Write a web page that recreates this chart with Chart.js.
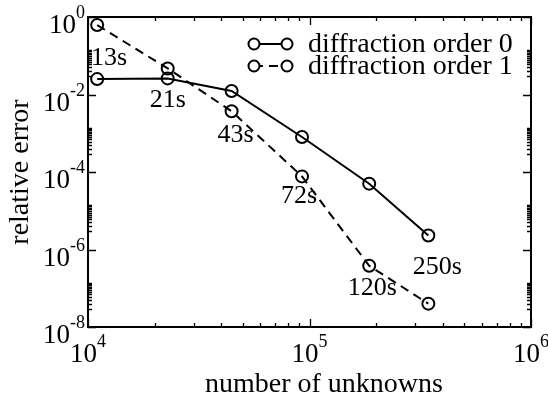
<!DOCTYPE html>
<html>
<head>
<meta charset="utf-8">
<script src="https://cdn.jsdelivr.net/npm/chart.js@4"></script>
<style>
  body { margin: 0; background: #fff; }
  #wrap { position: relative; width: 548px; height: 397px; }
</style>
</head>
<body>
<div id="wrap"><canvas id="chart" width="548" height="397"></canvas></div>
<script>
// number of unknowns
const unknowns = [11000, 22900, 44500, 92500, 186000, 344000];
// relative error, diffraction order 0 and 1
const order0 = [0.025, 0.026, 0.0123, 8.0e-4, 5.0e-5, 2.3e-6];
const order1 = [0.62, 0.047, 3.7e-3, 7.7e-5, 3.8e-7, 4.0e-8];
const seriesNames = ['diffraction order 0', 'diffraction order 1'];
// computing times, written next to the order 1 points
const times = ['13s', '21s', '43s', '72s', '120s', '250s'];
const xDecades = [4, 5, 6];
const yDecades = [0, -2, -4, -6, -8];

const SERIF = '"Liberation Serif", "DejaVu Serif", serif';

// offsets of the time labels from their point (px)
const timeOffsets = [[12, 33], [0, 32], [4, 24], [-3, 20], [3, 22], [9, -36]];

function drawPow(ctx, exp, x, y, align) {
  // "10" with a raised exponent; (x, y) = anchor, y = baseline of "10"
  const big = '27px ' + SERIF, small = '18px ' + SERIF;
  ctx.font = big;
  const wb = ctx.measureText('10').width;
  ctx.font = small;
  const we = ctx.measureText(exp).width;
  let left = align === 'right' ? x - wb - we : x - (wb + we) / 2;
  ctx.textAlign = 'left';
  ctx.textBaseline = 'alphabetic';
  ctx.font = big;
  ctx.fillText('10', left, y);
  ctx.font = small;
  ctx.fillText(exp, left + wb, y - 15);
}

const framePlugin = {
  id: 'frame',
  afterDraw(chart) {
    const { ctx, chartArea: a, scales } = chart;
    const xs = scales.x, ys = scales.y;
    ctx.save();
    ctx.strokeStyle = '#000';
    ctx.fillStyle = '#000';

    // ticks, pointing inward on all four sides
    ctx.lineWidth = 1.3;
    ctx.beginPath();
    const xTick = (v, len) => {
      const px = Math.round(xs.getPixelForValue(v)) + 0.5;
      ctx.moveTo(px, a.bottom); ctx.lineTo(px, a.bottom - len);
      ctx.moveTo(px, a.top); ctx.lineTo(px, a.top + len);
    };
    const yTick = (v, len) => {
      const py = Math.round(ys.getPixelForValue(v)) + 0.5;
      ctx.moveTo(a.left, py); ctx.lineTo(a.left + len, py);
      ctx.moveTo(a.right, py); ctx.lineTo(a.right - len, py);
    };
    xDecades.forEach((d, i) => {
      xTick(Math.pow(10, d), 8);
      if (i < xDecades.length - 1) {
        for (let k = 2; k <= 9; k++) xTick(k * Math.pow(10, d), 4);
      }
    });
    yDecades.forEach((d, i) => {
      yTick(Math.pow(10, d), 8);
      if (i > 0) {
        for (let k = 3; k <= 14; k++) yTick(k * Math.pow(10, d), 4);
      }
    });
    ctx.stroke();

    // frame
    ctx.lineWidth = 2;
    ctx.strokeRect(a.left, a.top, a.right - a.left, a.bottom - a.top);

    // tick labels
    yDecades.forEach(d => {
      const py = ys.getPixelForValue(Math.pow(10, d));
      drawPow(ctx, String(d), a.left - 3, py + 16, 'right');
    });
    xDecades.forEach(d => {
      const px = xs.getPixelForValue(Math.pow(10, d));
      drawPow(ctx, String(d), px, a.bottom + 35, 'center');
    });

    // axis titles
    ctx.font = '28px ' + SERIF;
    ctx.textAlign = 'center';
    ctx.textBaseline = 'middle';
    ctx.fillText('number of unknowns', 324, 385);
    ctx.save();
    ctx.translate(21, (a.top + a.bottom) / 2);
    ctx.rotate(-Math.PI / 2);
    ctx.fillText('relative error', 0, 0);
    ctx.restore();

    // time labels next to the order 1 points
    ctx.font = '26px ' + SERIF;
    const meta = chart.getDatasetMeta(1);
    times.forEach((t, i) => {
      const p = meta.data[i];
      ctx.fillText(t, p.x + timeOffsets[i][0], p.y + timeOffsets[i][1]);
    });

    // legend
    chart.data.datasets.forEach((ds, i) => {
      const y = 44 + i * 22;
      ctx.lineWidth = 2;
      ctx.setLineDash(ds.borderDash || []);
      ctx.beginPath();
      ctx.moveTo(254, y); ctx.lineTo(287, y);
      ctx.stroke();
      ctx.setLineDash([]);
      [254, 287].forEach(cx => {
        ctx.beginPath();
        ctx.arc(cx, y, 5.5, 0, Math.PI * 2);
        ctx.fillStyle = '#fff';
        ctx.fill();
        ctx.stroke();
      });
      ctx.fillStyle = '#000';
      ctx.font = '28px ' + SERIF;
      ctx.textAlign = 'left';
      ctx.fillText(ds.label, 308, y + 1);
    });
    ctx.restore();
  }
};

new Chart(document.getElementById('chart'), {
  type: 'line',
  data: {
    datasets: [
      {
        label: seriesNames[0],
        data: unknowns.map((x, i) => ({ x, y: order0[i] })),
        borderColor: '#000',
        borderWidth: 2,
        pointRadius: 6,
        pointBorderWidth: 2,
        pointBorderColor: '#000',
        pointBackgroundColor: 'rgba(0,0,0,0)',
        tension: 0,
      },
      {
        label: seriesNames[1],
        data: unknowns.map((x, i) => ({ x, y: order1[i] })),
        borderColor: '#000',
        borderWidth: 2,
        borderDash: [9, 6],
        pointRadius: 6,
        pointBorderWidth: 2,
        pointBorderColor: '#000',
        pointBackgroundColor: 'rgba(0,0,0,0)',
        tension: 0,
      },
    ],
  },
  options: {
    responsive: false,
    animation: false,
    layout: { padding: { left: 88, right: 17, top: 17, bottom: 70 } },
    plugins: {
      legend: { display: false },
      tooltip: { enabled: false },
    },
    scales: {
      x: { type: 'logarithmic', min: 1e4, max: 1e6, display: false },
      y: { type: 'logarithmic', min: 1e-8, max: 1, display: false },
    },
  },
  plugins: [framePlugin],
});
</script>
</body>
</html>
